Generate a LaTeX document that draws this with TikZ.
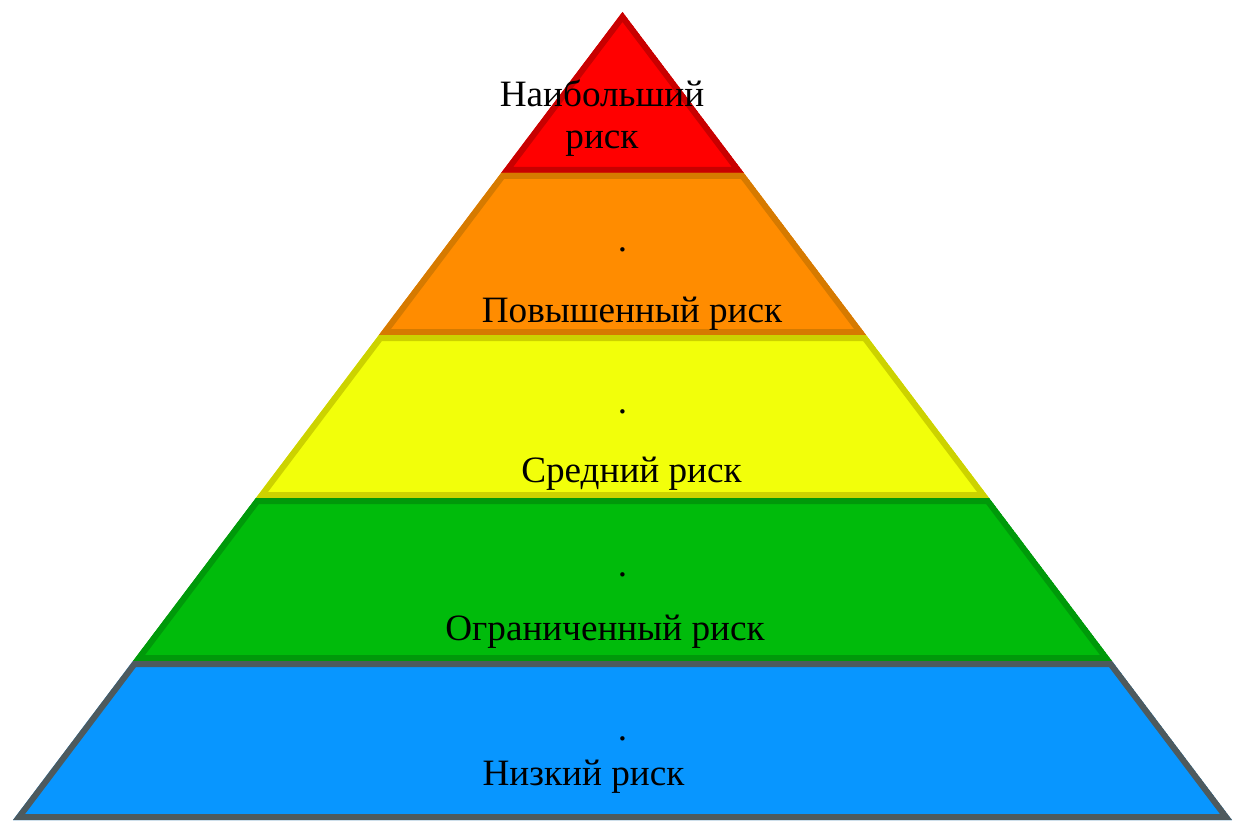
\documentclass[tikz,border=0pt]{standalone}
\usepackage{fontspec}
\setmainfont{Liberation Serif}
\definecolor{redF}{HTML}{FF0000}\definecolor{redB}{HTML}{C80000}
\definecolor{oraF}{HTML}{FF8C00}\definecolor{oraB}{HTML}{D67A00}
\definecolor{yelF}{HTML}{F2FF0A}\definecolor{yelB}{HTML}{CCD200}
\definecolor{grnF}{HTML}{00BB0B}\definecolor{grnB}{HTML}{00990A}
\definecolor{bluF}{HTML}{0896FF}\definecolor{bluB}{HTML}{4E5A5E}
\tikzset{
  lbl/.style={anchor=base, inner sep=0pt, font=\fontsize{37.2}{41}\selectfont, text=black},
}
\newcommand{\layer}[3]{%
  \begin{scope}
    \clip #1;
    \fill[#2] #1;
    \draw[#3, line width=12pt, line join=miter] #1;
  \end{scope}}
\begin{document}
\begin{tikzpicture}[x=1pt,y=-1pt]
\useasboundingbox (0,0) rectangle (1236,821);
\layer{(622.5,12) -- (743.9,173) -- (501.1,173) -- cycle}{redF}{redB}
\layer{(501.1,173) -- (743.9,173) -- (866.1,335) -- (378.9,335) -- cycle}{oraF}{oraB}
\layer{(378.9,335) -- (866.1,335) -- (989.1,498) -- (255.9,498) -- cycle}{yelF}{yelB}
\layer{(255.9,498) -- (989.1,498) -- (1112.0,661) -- (133.0,661) -- cycle}{grnF}{grnB}
\layer{(133.0,661) -- (1112.0,661) -- (1232.0,820) -- (13.0,820) -- cycle}{bluF}{bluB}
\node[lbl] (t1a) at (602,107) {Наибольший};
\node[lbl] (t1b) at (602,149) {риск};
\node[lbl] (d2) at (622.5,251) {.};
\node[lbl] (t2) at (632,322) {Повышенный риск};
\node[lbl] (d3) at (622.5,413) {.};
\node[lbl] (t3) at (631.5,482) {Средний риск};
\node[lbl] (d4) at (622.5,576) {.};
\node[lbl] (t4) at (605,640) {Ограниченный риск};
\node[lbl] (d5) at (622.5,740) {.};
\node[lbl] (t5) at (583.5,785) {Низкий риск};
\end{tikzpicture}
\end{document}
